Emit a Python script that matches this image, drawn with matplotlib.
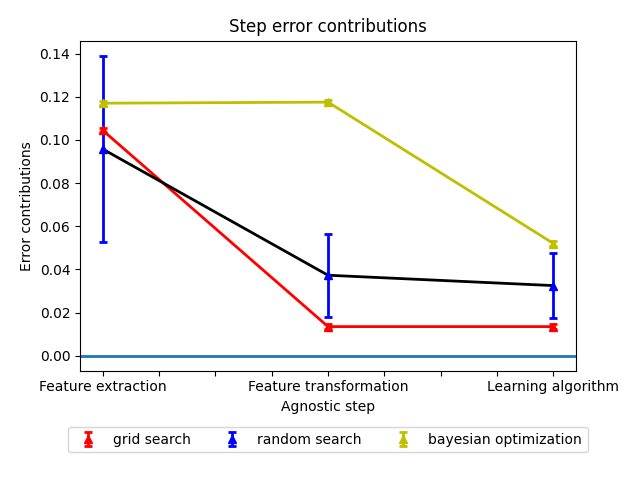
import matplotlib
matplotlib.use("Agg")
import matplotlib.pyplot as plt

steps = ["Feature extraction", "Feature transformation", "Learning algorithm"]
x = [0, 1, 2]

grid_mean = [0.1045, 0.0135, 0.0135]
grid_err = [0.001, 0.001, 0.001]

random_mean = [0.0958, 0.0373, 0.0325]
random_err = [0.0432, 0.0193, 0.0150]

bayes_mean = [0.1170, 0.1175, 0.0520]
bayes_err = [0.001, 0.001, 0.001]

fig, ax = plt.subplots(figsize=(6.4, 4.79), dpi=100)
fig.subplots_adjust(left=0.125, right=0.9, top=0.915, bottom=0.226)

# connecting lines (no legend entries)
ax.plot(x, grid_mean, color='r', lw=2)
ax.plot(x, random_mean, color='k', lw=2)
ax.plot(x, bayes_mean, color='y', lw=2)

h_bayes = ax.errorbar(x, bayes_mean, yerr=bayes_err, fmt='^', color='y',
                      elinewidth=2, capsize=3, capthick=2, ms=6,
                      label='bayesian optimization')
h_random = ax.errorbar(x, random_mean, yerr=random_err, fmt='^', color='b',
                       elinewidth=2, capsize=3, capthick=2, ms=6,
                       label='random search')
h_grid = ax.errorbar(x, grid_mean, yerr=grid_err, fmt='^', color='r',
                     elinewidth=2, capsize=3, capthick=2, ms=6,
                     label='grid search')

ax.axhline(0, color='C0', lw=2)

ax.set_xticks([0, 0.25, 0.5, 0.75, 1.0, 1.25, 1.5, 1.75, 2.0])
ax.set_xticklabels([steps[0], '', '', '', steps[1], '', '', '', steps[2]])
ax.set_xlabel("Agnostic step")
ax.set_ylabel("Error contributions")
ax.set_title("Step error contributions")
ax.legend(handles=[h_grid, h_random, h_bayes], loc='upper center',
          bbox_to_anchor=(0.5, -0.15), ncol=3)

plt.savefig("out.png")
